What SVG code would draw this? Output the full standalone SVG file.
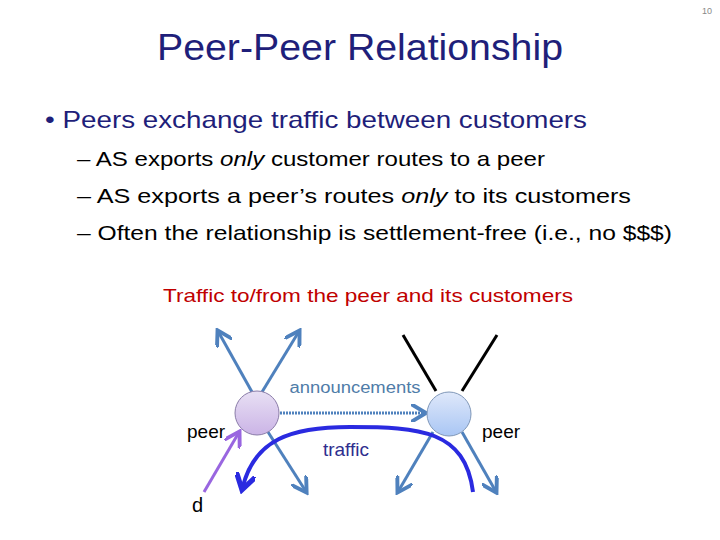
<svg xmlns="http://www.w3.org/2000/svg" width="720" height="540" viewBox="0 0 720 540">
<defs>
<style>
text{font-family:"Liberation Sans","Open Sans",sans-serif}
.b{fill:#000}
.ar{stroke:#4f81bd;stroke-width:3;fill:none;marker-end:url(#ah)}
.bl{stroke:#000;stroke-width:3}
</style>
<marker id="ah" markerWidth="6" markerHeight="6" refX="4" refY="3" orient="auto" markerUnits="strokeWidth"><path d="M0,0 L5,3 L0,6" fill="none" stroke="#4f81bd" stroke-width="1.3"/></marker>
<marker id="ahb" markerWidth="5" markerHeight="5" refX="3" refY="2.5" orient="auto" markerUnits="strokeWidth"><path d="M0,0 L4,2.5 L0,5" fill="none" stroke="#2a2ae0" stroke-width="1.3"/></marker>
<marker id="ahp" markerWidth="6" markerHeight="6" refX="4" refY="3" orient="auto" markerUnits="strokeWidth"><path d="M0,0 L5,3 L0,6" fill="none" stroke="#9966e0" stroke-width="1.3"/></marker>
<linearGradient id="gp" x1="0" y1="0" x2="0" y2="1"><stop offset="0" stop-color="#e8e0f4"/><stop offset="1" stop-color="#cbb4e6"/></linearGradient>
<linearGradient id="gb" x1="0" y1="0" x2="0" y2="1"><stop offset="0" stop-color="#dfe8fa"/><stop offset="1" stop-color="#a9c6f4"/></linearGradient>
</defs>
<text x="712" y="14" font-size="9" fill="#888" text-anchor="end">10</text>
<text x="360" y="60" font-size="36" fill="#1f1f7a" text-anchor="middle" textLength="406" lengthAdjust="spacingAndGlyphs">Peer-Peer Relationship</text>
<text x="45" y="128" font-size="24" fill="#1f1f7a" textLength="542" lengthAdjust="spacingAndGlyphs">• Peers exchange traffic between customers</text>
<text x="77" y="166" font-size="21" fill="#000" textLength="468" lengthAdjust="spacingAndGlyphs">– AS exports <tspan font-style="italic">only</tspan> customer routes to a peer</text>
<text x="77" y="203" font-size="21" fill="#000" textLength="554" lengthAdjust="spacingAndGlyphs">– AS exports a peer’s routes <tspan font-style="italic">only</tspan> to its customers</text>
<text x="77" y="240" font-size="21" fill="#000" textLength="595" lengthAdjust="spacingAndGlyphs">– Often the relationship is settlement-free (i.e., no $$$)</text>
<text x="368" y="302" font-size="19" fill="#c00000" text-anchor="middle" textLength="410" lengthAdjust="spacingAndGlyphs">Traffic to/from the peer and its customers</text>
<g id="connectors">
<line class="ar" x1="252" y1="392" x2="219" y2="333"/>
<line class="ar" x1="262" y1="392" x2="298" y2="333"/>
<line class="ar" x1="268" y1="432" x2="305" y2="490"/>
<line class="bl" x1="436" y1="391" x2="403" y2="335"/>
<line class="bl" x1="462" y1="391" x2="497" y2="335"/>
<line class="ar" x1="433" y1="432" x2="399" y2="490"/>
<line class="ar" x1="462" y1="432" x2="495" y2="490"/>
<line x1="280" y1="413" x2="423" y2="413" stroke="#4f81bd" stroke-width="3" stroke-dasharray="2,1" marker-end="url(#ah)"/>
<path d="M473,492 C465,430 420,427 350,427 C290,427 255,440 243,486" fill="none" stroke="#2a2ae0" stroke-width="4" marker-end="url(#ahb)"/>
<line x1="204" y1="492" x2="238" y2="434" stroke="#9966e0" stroke-width="3" marker-end="url(#ahp)"/>
</g>
<g id="peer-left"><circle cx="257" cy="413" r="22" fill="url(#gp)" stroke="#8a7ca8"/><text x="187" y="438" font-size="19" class="b">peer</text></g>
<g id="peer-right"><circle cx="449" cy="414" r="22" fill="url(#gb)" stroke="#7f97b8"/><text x="482" y="438" font-size="19" class="b">peer</text></g>
<text x="355" y="393" font-size="16" fill="#4f7ca8" text-anchor="middle" textLength="131" lengthAdjust="spacingAndGlyphs">announcements</text>
<text x="346" y="456" font-size="19" fill="#2e2e8e" text-anchor="middle">traffic</text>
<text x="192" y="512" font-size="20" class="b">d</text>
</svg>
